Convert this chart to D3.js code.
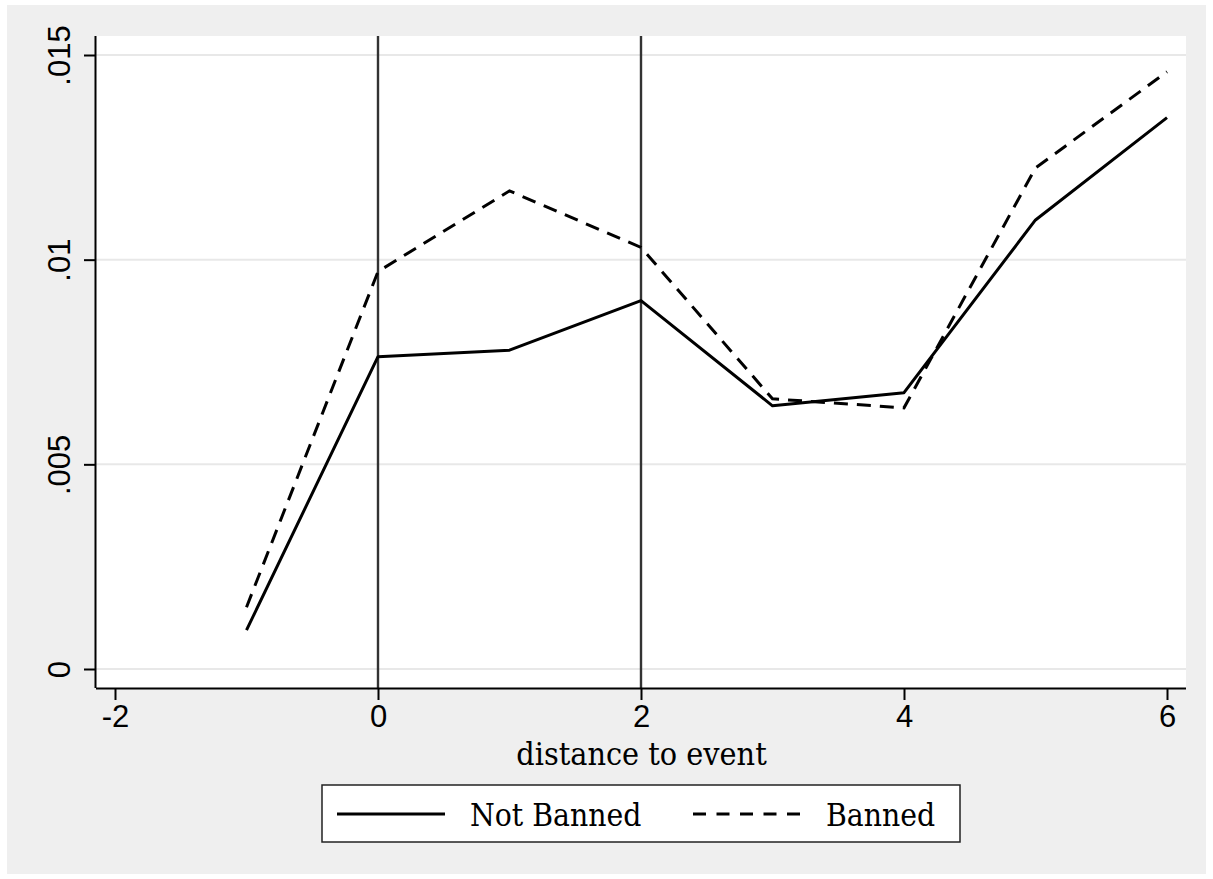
<!DOCTYPE html>
<html><head><meta charset="utf-8">
<script src="https://cdn.jsdelivr.net/npm/d3@7"></script>
<style>body{margin:0;background:#fff}svg{display:block}
.serif{font-family:"DejaVu Serif Condensed","DejaVu Serif",serif;}
.sans{font-family:"Liberation Sans",Arial,sans-serif;}
</style>
</head><body>
<script>
const distance = [-1, 0, 1, 2, 3, 4, 5, 6];
const notBanned = [0.00095, 0.00763, 0.00779, 0.00900, 0.00643, 0.00675, 0.01097, 0.01347];
const banned = [0.00151, 0.00971, 0.01168, 0.01030, 0.00660, 0.00638, 0.01224, 0.01459];
const xTicks = [-2, 0, 2, 4, 6];
const yTicks = [0, 0.005, 0.01, 0.015];
const yTickLabels = ["0", ".005", ".01", ".015"];
const eventLines = [0, 2];
const seriesNames = ["Not Banned", "Banned"];

const W = 1213, H = 879;
const svg = d3.select("body").append("svg").attr("width", W).attr("height", H);
svg.append("rect").attr("x", 7).attr("y", 5).attr("width", 1199).attr("height", 869).attr("fill", "#efefef");

const plot = {l: 96, r: 1186, t: 36, b: 688};
svg.append("rect").attr("x", plot.l).attr("y", plot.t).attr("width", plot.r - plot.l).attr("height", plot.b - plot.t).attr("fill", "#fff");

const x = d3.scaleLinear().domain([-2, 6]).range([115, 1167]);
const y = d3.scaleLinear().domain([0, 0.015]).range([669, 55]);

// gridlines
svg.append("g").selectAll("line").data(yTicks).join("line")
  .attr("x1", plot.l).attr("x2", plot.r)
  .attr("y1", d => y(d)).attr("y2", d => y(d))
  .attr("stroke", "#e8e8e8").attr("stroke-width", 2);

// event lines
svg.append("g").selectAll("line").data(eventLines).join("line")
  .attr("x1", d => x(d)).attr("x2", d => x(d))
  .attr("y1", plot.t).attr("y2", plot.b)
  .attr("stroke", "#333").attr("stroke-width", 2.4);

// series
const line = d3.line().x((d, i) => x(distance[i])).y(d => y(d));
svg.append("path").datum(notBanned).attr("d", line)
  .attr("fill", "none").attr("stroke", "#000").attr("stroke-width", 3).attr("stroke-linejoin", "round");
svg.append("path").datum(banned).attr("d", line)
  .attr("fill", "none").attr("stroke", "#000").attr("stroke-width", 3).attr("stroke-dasharray", "14,9");

// axes
const xAxis = d3.axisBottom(x).tickValues(xTicks).tickSize(12).tickSizeOuter(0).tickPadding(4).tickFormat(d => String(d));
const gx = svg.append("g").attr("transform", `translate(0,${plot.b})`).call(xAxis);
gx.attr("font-family", null).attr("font-size", null);
gx.select(".domain").attr("d", `M${plot.l},0.5H${plot.r}`).attr("stroke", "#000").attr("stroke-width", 2);
gx.selectAll(".tick line").attr("stroke", "#000").attr("stroke-width", 2);
gx.selectAll(".tick text").attr("class", "sans").attr("font-size", 31).attr("fill", "#000").attr("dy", "0.74em");

const yAxis = d3.axisLeft(y).tickValues(yTicks).tickSize(12).tickSizeOuter(0).tickFormat((d, i) => yTickLabels[i]);
const gy = svg.append("g").attr("transform", `translate(${plot.l},0)`).call(yAxis);
gy.attr("font-family", null).attr("font-size", null);
gy.select(".domain").attr("d", `M-0.5,${plot.t}V${plot.b}`).attr("stroke", "#000").attr("stroke-width", 2);
gy.selectAll(".tick line").attr("stroke", "#000").attr("stroke-width", 2);
gy.selectAll(".tick text")
  .attr("class", "sans").attr("font-size", 31).attr("fill", "#000")
  .attr("x", null).attr("dy", null)
  .attr("text-anchor", "middle")
  .attr("transform", "translate(-26,0) rotate(-90)");

// axis title
svg.append("text").attr("class", "serif").attr("x", (x(-2) + x(6)) / 2 + 0.5).attr("y", 765)
  .attr("text-anchor", "middle").attr("font-size", 32)
  .attr("fill", "#000").text("distance to event");

// legend
const lg = svg.append("g");
lg.append("rect").attr("x", 322).attr("y", 785).attr("width", 638).attr("height", 57)
  .attr("fill", "#fff").attr("stroke", "#222").attr("stroke-width", 1.5);
lg.append("line").attr("x1", 337).attr("x2", 445).attr("y1", 814).attr("y2", 814)
  .attr("stroke", "#000").attr("stroke-width", 3);
lg.append("line").attr("x1", 693).attr("x2", 800).attr("y1", 814).attr("y2", 814)
  .attr("stroke", "#000").attr("stroke-width", 3).attr("stroke-dasharray", "13,10.5");
lg.selectAll("text.lab").data(seriesNames).join("text").attr("class", "serif")
  .attr("x", (d, i) => i === 0 ? 470 : 826).attr("y", 826)
  .attr("font-size", 31.5).attr("fill", "#000")
  .text(d => d);
</script>
</body></html>
